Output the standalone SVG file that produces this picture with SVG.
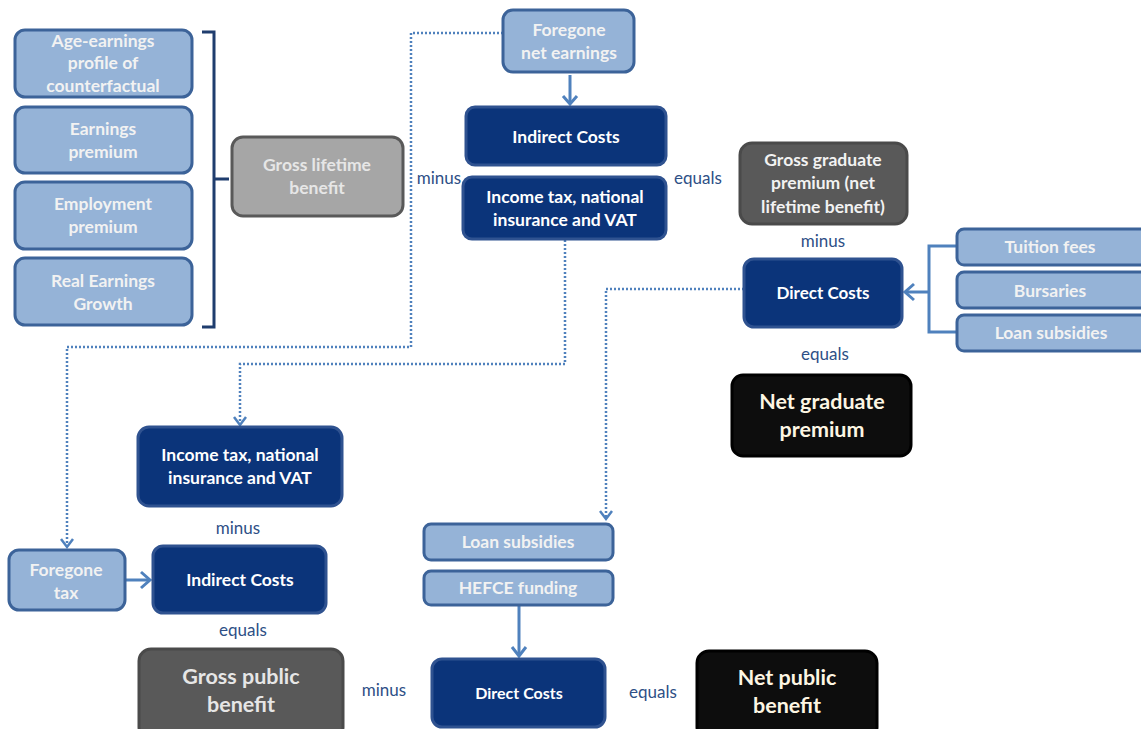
<svg xmlns="http://www.w3.org/2000/svg" width="1141" height="729" viewBox="0 0 1141 729">
<defs>
<style>
.lb{fill:#95b3d7;stroke:#3c6399;stroke-width:3}
.nv{fill:#0b347a;stroke:#2f5290;stroke-width:3}
.gr{fill:#a6a6a6;stroke:#595959;stroke-width:3}
.dg{fill:#595959;stroke:#4a4a4a;stroke-width:3}
.bk{fill:#0d0d0d;stroke:#000;stroke-width:3}
text{font-family:Lato,"Open Sans","Liberation Sans",sans-serif;font-weight:bold;text-anchor:middle}
.tw{fill:#fff;font-size:17.5px}
.tl{fill:#f2f2f2;font-size:17.5px}
.tg{fill:#e6e6e6;font-size:17.5px}
.tc{fill:#fdf6e3;font-size:21.5px}
.op{fill:#2e4f86;font-size:17px;font-weight:normal}
.solid{fill:none;stroke:#4f81bd;stroke-width:3}
.dot{fill:none;stroke:#4f81bd;stroke-width:2.5;stroke-dasharray:2 2}
.ah{fill:none;stroke:#4f81bd;stroke-width:2.5}
</style>
</defs>
<rect width="1141" height="729" fill="#fff"/>

<g id="connectors">
<path class="dot" d="M503,33 H411 V347 H67 V546"/>
<path class="ah" d="M61,539 L67,547 L73,539"/>
<path class="dot" d="M565,240 V364 H240 V424"/>
<path class="ah" d="M234,417 L240,425 L246,417"/>
<path class="dot" d="M744,289 H606 V518"/>
<path class="ah" d="M600,511 L606,519 L612,511"/>
<path class="solid" d="M570,75 V104"/>
<path class="ah" style="stroke-width:3" d="M563,96 L570,104 L577,96"/>
<path class="solid" d="M957,246 H929 V332 H957 M929,292 H905"/>
<path class="ah" style="stroke-width:3" d="M914,284 L905,292 L914,300"/>
<path class="solid" d="M126,580 H149"/>
<path class="ah" style="stroke-width:3" d="M141,572 L150,580 L141,588"/>
<path class="solid" d="M519,606 V655"/>
<path class="ah" style="stroke-width:3" d="M512,647 L519,656 L526,647"/>
<path fill="none" stroke="#1f3d6e" stroke-width="3" d="M202,32 H214 V327 H202 M214,179 H229"/>
</g>

<g id="age-earnings"><rect class="lb" x="15" y="30" width="177" height="67" rx="10"/><text class="tl" x="103" y="47">Age-earnings</text><text class="tl" x="103" y="69">profile of</text><text class="tl" x="103" y="92">counterfactual</text></g>
<g id="earnings-premium"><rect class="lb" x="15" y="107" width="177" height="66" rx="10"/><text class="tl" x="103" y="135">Earnings</text><text class="tl" x="103" y="158">premium</text></g>
<g id="employment-premium"><rect class="lb" x="15" y="182" width="177" height="67" rx="10"/><text class="tl" x="103" y="210">Employment</text><text class="tl" x="103" y="233">premium</text></g>
<g id="real-earnings-growth"><rect class="lb" x="15" y="258" width="177" height="67" rx="10"/><text class="tl" x="103" y="287">Real Earnings</text><text class="tl" x="103" y="310">Growth</text></g>
<g id="gross-lifetime-benefit"><rect class="gr" x="232" y="137" width="171" height="79" rx="11"/><text class="tg" x="317" y="171">Gross lifetime</text><text class="tg" x="317" y="194">benefit</text></g>

<g id="foregone-net-earnings"><rect class="lb" x="503" y="10" width="131" height="62" rx="10"/><text class="tl" x="569" y="36">Foregone</text><text class="tl" x="569" y="59">net earnings</text></g>
<g id="indirect-costs-top"><rect class="nv" x="466" y="107" width="200" height="58" rx="9"/><text class="tw" x="566" y="143">Indirect Costs</text></g>
<g id="income-tax-top"><rect class="nv" x="463" y="177" width="203" height="62" rx="9"/><text class="tw" x="565" y="203">Income tax, national</text><text class="tw" x="565" y="226">insurance and VAT</text></g>
<text class="op" x="439" y="184">minus</text>
<text class="op" x="698" y="184">equals</text>

<g id="gross-graduate-premium"><rect class="dg" x="740" y="143" width="167" height="81" rx="12"/><text class="tl" x="823" y="166">Gross graduate</text><text class="tl" x="823" y="189">premium (net</text><text class="tl" x="823" y="213">lifetime benefit)</text></g>
<text class="op" x="823" y="247">minus</text>
<g id="direct-costs-top"><rect class="nv" x="744" y="259" width="158" height="68" rx="10"/><text class="tw" x="823" y="299" style="font-size:17px">Direct Costs</text></g>
<text class="op" x="825" y="360">equals</text>
<g id="net-graduate-premium"><rect class="bk" x="732" y="375" width="179" height="81" rx="11"/><text class="tc" x="822" y="409">Net graduate</text><text class="tc" x="822" y="437">premium</text></g>

<g id="tuition-fees"><rect class="lb" x="957" y="229" width="190" height="36" rx="7"/><text class="tl" x="1050" y="253">Tuition fees</text></g>
<g id="bursaries"><rect class="lb" x="957" y="272" width="190" height="36" rx="7"/><text class="tl" x="1050" y="297">Bursaries</text></g>
<g id="loan-subsidies-top"><rect class="lb" x="957" y="315" width="190" height="36" rx="7"/><text class="tl" x="1051" y="339">Loan subsidies</text></g>

<g id="income-tax-lower"><rect class="nv" x="138" y="427" width="204" height="79" rx="11"/><text class="tw" x="240" y="461">Income tax, national</text><text class="tw" x="240" y="484">insurance and VAT</text></g>
<text class="op" x="238" y="534">minus</text>
<g id="foregone-tax"><rect class="lb" x="9" y="550" width="116" height="60" rx="10"/><text class="tl" x="66" y="576">Foregone</text><text class="tl" x="66" y="599">tax</text></g>
<g id="indirect-costs-lower"><rect class="nv" x="153" y="546" width="173" height="67" rx="10"/><text class="tw" x="240" y="586">Indirect Costs</text></g>
<text class="op" x="243" y="636">equals</text>
<g id="gross-public-benefit"><rect class="dg" x="139" y="649" width="204" height="90" rx="12"/><text class="tg" x="241" y="684" style="font-size:21.5px">Gross public</text><text class="tg" x="241" y="712" style="font-size:21.5px">benefit</text></g>
<text class="op" x="384" y="696">minus</text>

<g id="loan-subsidies-lower"><rect class="lb" x="424" y="524" width="189" height="36" rx="7"/><text class="tl" x="518" y="548">Loan subsidies</text></g>
<g id="hefce-funding"><rect class="lb" x="424" y="571" width="189" height="34" rx="7"/><text class="tl" x="518" y="594">HEFCE funding</text></g>
<g id="direct-costs-lower"><rect class="nv" x="432" y="659" width="173" height="68" rx="10"/><text class="tw" x="519" y="699" style="font-size:16px">Direct Costs</text></g>
<text class="op" x="653" y="698">equals</text>
<g id="net-public-benefit"><rect class="bk" x="697" y="651" width="180" height="88" rx="12"/><text class="tc" x="787" y="685">Net public</text><text class="tc" x="787" y="713">benefit</text></g>
</svg>
